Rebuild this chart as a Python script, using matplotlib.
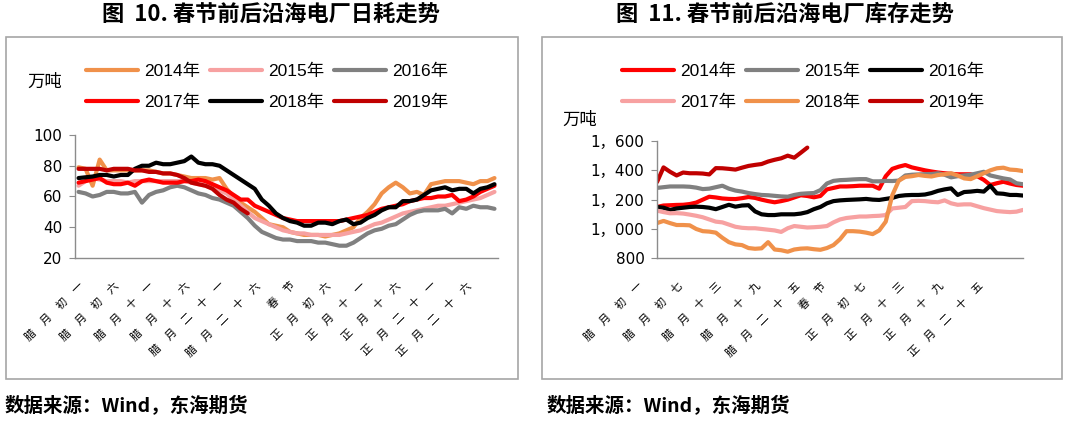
import matplotlib.pyplot as plt
import matplotlib.transforms as mtransforms
from matplotlib.patches import Rectangle
from matplotlib.ticker import FuncFormatter

plt.rcParams['font.family'] = ['Liberation Sans', 'Noto Sans CJK SC']

# ---- 图10: 日耗 (万吨), 腊月初一 .. 正月三十, 60 days
cons_ticks = [0, 5, 10, 15, 20, 25, 30, 35, 40, 45, 50, 55]
cons_labels = ['腊月初一', '腊月初六', '腊月十一', '腊月十六', '腊月二十一', '腊月二十六',
               '春节', '正月初六', '正月十一', '正月十六', '正月二十一', '正月二十六']
cons_2014 = [79, 78, 67, 84, 77, 77, 77, 77, 77, 77, 77, 76, 75, 75, 74, 73, 72, 72, 72, 71,
             72, 65, 60, 56, 53, 50, 46, 42, 41, 40, 37, 36, 35, 35, 35, 34, 35, 36, 38, 40,
             46, 50, 55, 62, 66, 69, 66, 62, 63, 61, 68, 69, 70, 70, 70, 69, 68, 70, 70, 72]
cons_2015 = [67, 70, 72, 71, 70, 70, 70, 69, 70, 70, 70, 70, 70, 70, 70, 70, 69, 68, 67, 66,
             64, 62, 58, 54, 50, 46, 44, 42, 40, 38, 37, 36, 36, 35, 35, 35, 35, 35, 36, 37,
             38, 40, 42, 43, 45, 47, 49, 50, 51, 52, 53, 54, 54, 55, 56, 57, 58, 59, 61, 63]
cons_2016 = [63, 62, 60, 61, 63, 63, 62, 62, 63, 56, 61, 63, 64, 66, 67, 66, 64, 62, 61, 59,
             58, 56, 54, 50, 46, 41, 37, 35, 33, 32, 32, 31, 31, 31, 30, 30, 29, 28, 28, 30,
             33, 36, 38, 39, 41, 42, 45, 48, 50, 51, 51, 51, 52, 49, 53, 52, 54, 53, 53, 52]
cons_2017 = [69, 70, 71, 72, 69, 68, 68, 69, 67, 70, 71, 70, 69, 69, 69, 70, 70, 71, 70, 68,
             66, 64, 61, 58, 58, 54, 52, 50, 48, 46, 45, 44, 44, 44, 44, 44, 44, 44, 45, 46,
             47, 48, 50, 52, 53, 54, 55, 57, 58, 59, 59, 60, 60, 61, 57, 58, 60, 63, 65, 67]
cons_2018 = [72, 72.5, 73, 74, 74, 73, 74, 74, 78, 80, 80, 82, 81, 81, 82, 83, 86, 82, 81, 81,
             80, 77, 74, 71, 68, 65, 58, 54, 49, 46, 44, 43, 41, 41, 43, 43, 42, 44, 45, 42,
             43, 46, 48, 51, 53, 53, 57, 57, 58, 61, 64, 65, 66, 64, 65, 65, 62, 65, 66, 68]
cons_2019 = [78, 78, 78, 78, 77, 78, 78, 78, 77, 77, 76, 76, 75, 75, 74, 72, 69, 68, 67, 65,
             61, 58, 56, 52, 49]

# ---- 图11: 库存 (万吨), 57 days
stock_ticks = [0, 6, 12, 18, 24, 28, 34, 40, 46, 52]
stock_labels = ['腊月初一', '腊月初七', '腊月十三', '腊月十九', '腊月二十五',
                '春节', '正月初七', '正月十三', '正月十九', '正月二十五']
stock_2014 = [1150, 1160, 1162, 1164, 1165, 1170, 1180, 1200, 1220, 1215, 1208, 1205, 1204, 1210,
              1218, 1212, 1200, 1190, 1182, 1190, 1200, 1215, 1230, 1225, 1216, 1225, 1270, 1280,
              1290, 1290, 1292, 1295, 1295, 1295, 1275, 1360, 1410, 1425, 1436, 1420, 1410, 1400,
              1392, 1385, 1380, 1376, 1373, 1373, 1373, 1360, 1335, 1300, 1312, 1322, 1310, 1300, 1295]
stock_2015 = [1280, 1285, 1290, 1290, 1290, 1288, 1282, 1272, 1275, 1285, 1295, 1275, 1262, 1255,
              1245, 1238, 1232, 1230, 1226, 1222, 1220, 1232, 1240, 1243, 1245, 1265, 1310, 1328,
              1333, 1335, 1338, 1340, 1340, 1325, 1325, 1328, 1327, 1330, 1365, 1370, 1372, 1374,
              1375, 1380, 1370, 1352, 1360, 1365, 1370, 1380, 1390, 1365, 1355, 1345, 1338, 1312, 1305]
stock_2016 = [1150, 1145, 1130, 1140, 1145, 1150, 1152, 1150, 1145, 1135, 1150, 1165, 1152, 1160,
              1162, 1120, 1100, 1095, 1095, 1100, 1100, 1100, 1105, 1115, 1135, 1150, 1175, 1190,
              1195, 1198, 1200, 1202, 1205, 1200, 1198, 1205, 1212, 1225, 1230, 1232, 1232, 1235,
              1245, 1260, 1270, 1277, 1232, 1252, 1255, 1260, 1255, 1295, 1243, 1240, 1232, 1232, 1228]
stock_2017 = [1125, 1115, 1107, 1108, 1105, 1098, 1090, 1080, 1065, 1050, 1045, 1030, 1015, 1008,
              1005, 1005, 1000, 995, 990, 980, 1005, 1020, 1015, 1010, 1012, 1015, 1020, 1045,
              1065, 1075, 1080, 1085, 1085, 1088, 1090, 1095, 1140, 1145, 1150, 1190, 1192, 1190,
              1185, 1182, 1195, 1175, 1165, 1168, 1168, 1155, 1142, 1132, 1122, 1118, 1115, 1118, 1130]
stock_2018 = [1040, 1055, 1040, 1027, 1027, 1025, 1000, 985, 982, 975, 940, 910, 895, 890,
              870, 865, 868, 910, 860, 855, 845, 860, 866, 868, 862, 858, 870, 890,
              930, 985, 985, 982, 975, 965, 990, 1050, 1230, 1330, 1355, 1360, 1368, 1362,
              1358, 1368, 1373, 1380, 1365, 1345, 1340, 1360, 1380, 1400, 1414, 1418, 1405, 1402, 1395]
stock_2019 = [1320, 1420, 1390, 1365, 1385, 1380, 1380, 1378, 1372, 1415, 1414, 1410, 1405, 1418,
              1430, 1437, 1443, 1460, 1472, 1482, 1500, 1486, 1520, 1555]

years = ['2014年', '2015年', '2016年', '2017年', '2018年', '2019年']
cons_colors = ['#F0914A', '#F7A1A1', '#808080', '#FF0000', '#000000', '#C00000']
stock_colors = ['#FF0000', '#808080', '#000000', '#F7A1A1', '#F0914A', '#C00000']

W, H = 1069, 423
fig = plt.figure(figsize=(W / 100, H / 100), dpi=100)
cjk = ['Noto Sans CJK SC', 'DejaVu Sans']
num = ['DejaVu Sans', 'Noto Sans CJK SC']


def spaced(s):
    return '\u3000'.join(s)


def style(ax, ticks, labels):
    for s in ['top', 'right']:
        ax.spines[s].set_visible(False)
    for s in ['left', 'bottom']:
        ax.spines[s].set_color('#8C8C8C')
        ax.spines[s].set_linewidth(1)
    ax.tick_params(axis='y', length=4, color='#8C8C8C', labelsize=11, pad=5)
    for lab in ax.get_yticklabels():
        lab.set_family(num)
    ax.tick_params(axis='x', length=0, pad=16)
    ax.set_xticks(ticks, [spaced(t) for t in labels], rotation=45, ha='right', va='top',
                  rotation_mode='anchor', fontsize=8, family=cjk)


def legend(ax, lines, x0):
    # Excel fills the legend row by row
    order = [0, 3, 1, 4, 2, 5]
    ax.legend([lines[k] for k in order], [years[k] for k in order], ncol=3,
              loc='upper left', bbox_to_anchor=(x0 / W, 1 - 64 / H),
              bbox_transform=fig.transFigure, frameon=False, fontsize=12.5,
              borderpad=0, borderaxespad=0, handlelength=3.0, handletextpad=0.35,
              columnspacing=0.55, labelspacing=0.9)


# left chart
ax1 = fig.add_axes([75 / W, 1 - 258 / H, 423 / W, 123 / H])
lines1 = []
for data, c in zip([cons_2014, cons_2015, cons_2016, cons_2017, cons_2018, cons_2019], cons_colors):
    ln, = ax1.plot(range(len(data)), data, color=c, lw=3, solid_capstyle='round')
    lines1.append(ln)
ax1.set_xlim(-0.5, 59.5)
ax1.set_ylim(20, 100)
ax1.set_yticks([20, 40, 60, 80, 100])
style(ax1, cons_ticks, cons_labels)
legend(ax1, lines1, 86)
fig.text(45 / W, 1 - 82 / H, '万吨', ha='center', va='center', fontsize=12.5, family=cjk)

# right chart
ax2 = fig.add_axes([657 / W, 1 - 258.3 / H, 366 / W, 117.3 / H])
lines2 = []
for data, c in zip([stock_2014, stock_2015, stock_2016, stock_2017, stock_2018, stock_2019], stock_colors):
    ln, = ax2.plot(range(len(data)), data, color=c, lw=3, solid_capstyle='round')
    lines2.append(ln)
ax2.set_xlim(0, 56)
ax2.set_ylim(800, 1600)
ax2.set_yticks([800, 1000, 1200, 1400, 1600])
ax2.yaxis.set_major_formatter(FuncFormatter(lambda v, p: f'{v:,.0f}'.replace(',', '，')))
style(ax2, stock_ticks, stock_labels)
shift = mtransforms.ScaledTranslation(-19 / 100, 0, fig.dpi_scale_trans)
for lab in ax2.get_xticklabels():
    lab.set_transform(lab.get_transform() + shift)
legend(ax2, lines2, 622)
fig.text(580 / W, 1 - 120 / H, '万吨', ha='center', va='center', fontsize=12.5, family=cjk)

# titles, frames, sources
fig.text(271 / W, 1 - 14 / H, '图  10. 春节前后沿海电厂日耗走势', ha='center', va='center',
         fontsize=16, weight='bold', family=cjk)
fig.text(785 / W, 1 - 14 / H, '图  11. 春节前后沿海电厂库存走势', ha='center', va='center',
         fontsize=16, weight='bold', family=cjk)
for x0, x1 in [(6, 518), (542, 1062)]:
    fig.add_artist(Rectangle((x0 / W, 1 - 379 / H), (x1 - x0) / W, 342 / H,
                             transform=fig.transFigure, fill=False, edgecolor='#A6A6A6', lw=1.2))
fig.text(5 / W, 1 - 406 / H, '数据来源：Wind，东海期货', va='center', fontsize=14,
         weight='bold', family=cjk)
fig.text(547 / W, 1 - 406 / H, '数据来源：Wind，东海期货', va='center', fontsize=14,
         weight='bold', family=cjk)

fig.savefig('out.png', dpi=100)
